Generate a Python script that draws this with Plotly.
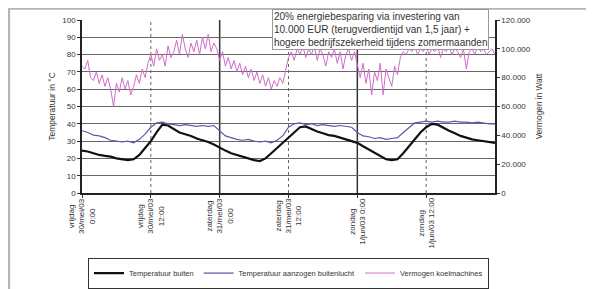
import plotly.graph_objects as go

# ---------------- data ----------------
tick_hours = [0, 12, 24, 36, 48, 60]
tick_labels = [
    "vrijdag<br>30/mei/03<br>0:00",
    "vrijdag<br>30/mei/03<br>12:00",
    "zaterdag<br>31/mei/03<br>0:00",
    "zaterdag<br>31/mei/03<br>12:00",
    "zondag<br>1/jun/03 0:00",
    "zondag<br>1/jun/03 12:00",
]
day_boundaries = [24, 48]
half_days = [12, 36, 60]

hours_temp = list(range(73))
temp_buiten = [
    24.5, 24, 23, 22, 21.5, 21, 20, 19.5, 19, 19.5, 22, 26,
    30, 35, 39.5, 39, 37, 35, 34, 33, 31.5, 30.5, 29.5, 28,
    26, 24.5, 23, 22, 21, 20, 19, 18.5, 20, 23, 26, 29,
    31.5, 35, 38, 38.5, 37, 35.5, 34.5, 33.5, 33, 32, 31, 30,
    29, 27, 25, 23, 21, 19.5, 19, 19.5, 23, 27, 31, 35,
    38, 40, 39.5, 37.5, 36, 34.5, 33, 32, 31, 30.5, 30, 29.5,
    29,
]
temp_aanzuig = [
    36, 35, 33.5, 33, 32, 30.5, 30, 29.5, 30, 29, 31, 34,
    38, 40.5, 41, 40, 39.5, 39, 39.5, 39, 38.5, 39, 38.5, 39,
    36, 33, 32, 31, 30.5, 31, 30, 29.5, 30, 29, 30.5, 33,
    38, 40, 40.5, 39.5, 40, 39, 39.5, 39, 38.5, 39, 38.5, 38,
    35, 33, 32.5, 31.5, 32, 31, 31.5, 32, 35, 38, 40.5, 41,
    41.5, 41, 41.5, 41, 41, 41.5, 41, 41, 40.5, 41, 40.5, 40,
    40,
]

hours_power = [i / 2 for i in range(145)]
vermogen = [
    88000, 86000, 92000, 80000, 78000, 84000, 76000, 82000, 74000, 80000, 72000, 60000,
    76000, 70000, 80000, 72000, 78000, 68000, 74000, 82000, 76000, 86000, 80000, 90000,
    96000, 88000, 100000, 92000, 96000, 88000, 102000, 94000, 98000, 106000, 96000, 110000,
    100000, 94000, 104000, 98000, 106000, 96000, 108000, 100000, 110000, 98000, 104000, 100000,
    92000, 98000, 88000, 94000, 86000, 92000, 84000, 90000, 82000, 88000, 80000, 86000,
    78000, 84000, 76000, 82000, 74000, 80000, 72000, 78000, 74000, 80000, 76000, 86000,
    94000, 98000, 92000, 100000, 96000, 102000, 94000, 100000, 96000, 102000, 92000, 100000,
    96000, 88000, 98000, 94000, 100000, 90000, 98000, 86000, 96000, 100000, 92000, 98000,
    88000, 80000, 90000, 76000, 86000, 68000, 84000, 78000, 90000, 68000, 86000, 80000,
    74000, 88000, 82000, 94000, 98000, 96000, 100000, 98000, 102000, 96000, 100000, 98000,
    102000, 96000, 100000, 98000, 102000, 94000, 100000, 98000, 102000, 96000, 100000, 98000,
    94000, 100000, 86000, 98000, 100000, 96000, 102000, 98000, 100000, 96000, 98000, 100000,
    96000,
]

left_ticks = [0, 10, 20, 30, 40, 50, 60, 70, 80, 90, 100]
right_ticks = [0, 20000, 40000, 60000, 80000, 100000, 120000]
right_tick_text = ["0", "20.000", "40.000", "60.000", "80.000", "100.000", "120.000"]

note_text = ("20% energiebesparing via investering van<br>"
             "10.000 EUR (terugverdientijd van 1,5 jaar) +<br>"
             "hogere bedrijfszekerheid tijdens zomermaanden")

# ---------------- figure ----------------
FONT = "Liberation Sans, Arial, sans-serif"
TXT = "#333333"
fig = go.Figure()

fig.add_trace(go.Scatter(
    x=hours_temp, y=temp_buiten, mode="lines", name="Temperatuur buiten",
    line=dict(color="#111111", width=2.2)))
fig.add_trace(go.Scatter(
    x=hours_temp, y=temp_aanzuig, mode="lines", name="Temperatuur aanzogen buitenlucht",
    line=dict(color="#5a5aa8", width=1.2)))
fig.add_trace(go.Scatter(
    x=hours_power, y=vermogen, mode="lines", name="Vermogen koelmachines",
    line=dict(color="#cf6ec8", width=1), yaxis="y2"))

shapes = []
for h in day_boundaries:
    shapes.append(dict(type="line", xref="x", yref="paper", x0=h, x1=h, y0=0, y1=1,
                       line=dict(color="#333333", width=1.5), layer="below"))
for h in half_days:
    shapes.append(dict(type="line", xref="x", yref="paper", x0=h, x1=h, y0=0, y1=1,
                       line=dict(color="#666666", width=1, dash="dot"), layer="below"))
# outer frame
shapes.append(dict(type="rect", xref="paper", yref="paper",
                   x0=-0.177, x1=1.25, y0=-0.6, y1=1.066,
                   line=dict(color="#b5b5b5", width=2.5), layer="below"))

annotations = []
for h, t in zip(tick_hours, tick_labels):
    annotations.append(dict(x=h, y=-0.017, xref="x", yref="paper", text=t,
                            textangle=-90, showarrow=False, xanchor="center",
                            yanchor="top", align="center",
                            font=dict(family=FONT, size=8, color=TXT)))
annotations.append(dict(x=0.46, y=1.062, xref="paper", yref="paper", text=note_text,
                        showarrow=False, xanchor="left", yanchor="top", align="left",
                        bgcolor="white", bordercolor="#999999", borderwidth=1, borderpad=1,
                        font=dict(family=FONT, size=10, color=TXT)))

fig.update_layout(
    width=586, height=281, autosize=False,
    margin=dict(l=74, r=99, t=12, b=96),
    paper_bgcolor="white", plot_bgcolor="white",
    font=dict(family=FONT, size=8, color=TXT),
    showlegend=True,
    legend=dict(orientation="h", xref="container", yref="container",
                x=0.1365, y=0.112, xanchor="left", yanchor="top",
                bordercolor="#333333", borderwidth=1, bgcolor="white",
                font=dict(family=FONT, size=7.5, color=TXT),
                itemwidth=30, tracegroupgap=0),
    xaxis=dict(range=[0, 72], tickvals=tick_hours, showticklabels=False,
               ticks="outside", ticklen=3, tickcolor="#333333",
               showgrid=False, zeroline=False, showline=True, automargin=False,
               linecolor="#222222", linewidth=1.5, fixedrange=True),
    yaxis=dict(range=[0, 100], tickvals=left_ticks, ticks="outside", ticklen=3,
               tickcolor="#333333", showgrid=True, gridcolor="#666666", gridwidth=1.2,
               zeroline=False, showline=True, linecolor="#222222", linewidth=1.5,
               automargin=False,
               title=dict(text="Temperatuur in °C", font=dict(family=FONT, size=8.5),
                          standoff=5),
               tickfont=dict(family=FONT, size=8)),
    yaxis2=dict(range=[0, 120000], tickvals=right_ticks, ticktext=right_tick_text,
                overlaying="y", side="right", ticks="outside", ticklen=3,
                tickcolor="#333333", showgrid=False, zeroline=False, showline=True,
                linecolor="#222222", linewidth=1.5, automargin=False,
                title=dict(text="Vermogen in Watt", font=dict(family=FONT, size=8.3),
                           standoff=6),
                tickfont=dict(family=FONT, size=8)),
    shapes=shapes,
    annotations=annotations,
)

fig.write_html("out.html")
